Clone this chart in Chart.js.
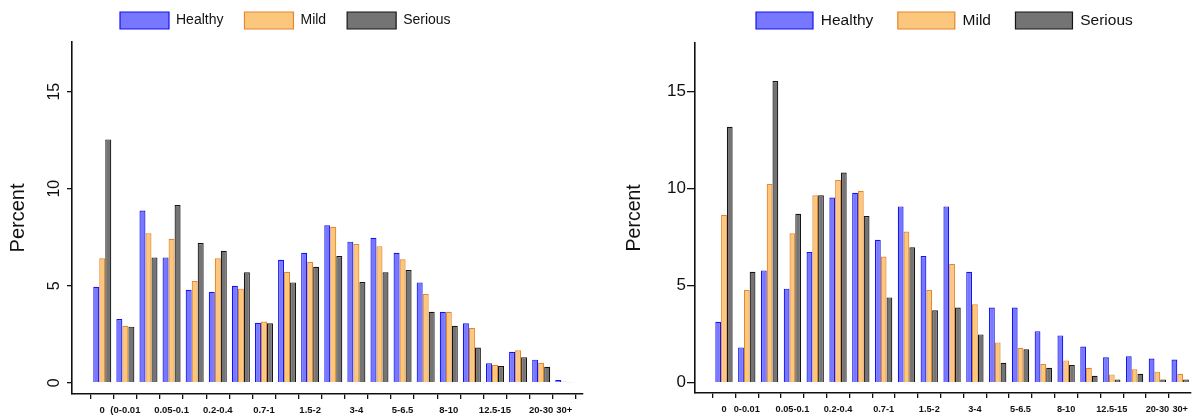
<!DOCTYPE html>
<html><head><meta charset="utf-8">
<script src="https://cdn.jsdelivr.net/npm/chart.js@4.4.1/dist/chart.umd.min.js"></script>
<style>
html,body{margin:0;padding:0;background:#fff;}
#wrap{position:relative;width:1194px;height:415px;overflow:hidden;background:#fff;}
.panel{position:absolute;top:0;width:597px;height:415px;}
</style></head><body>
<div id="wrap">
<div class="panel" style="left:0"><canvas id="c1" width="597" height="415"></canvas></div>
<div class="panel" style="left:597px"><canvas id="c2" width="597" height="415"></canvas></div>
</div>
<script>
// ---- data ----
const categories = ["0","0-0.01","0.01-0.05","0.05-0.1","0.1-0.2","0.2-0.4","0.4-0.7","0.7-1","1-1.5","1.5-2","2-3","3-4","4-5","5-6.5","6.5-8","8-10","10-12.5","12.5-15","15-20","20-30","30+"];
const tickLabelsLeft  = ["0","(0-0.01","","0.05-0.1","","0.2-0.4","","0.7-1","","1.5-2","","3-4","","5-6.5","","8-10","","12.5-15","","20-30","30+"];
const tickLabelsRight = ["0","0-0.01","","0.05-0.1","","0.2-0.4","","0.7-1","","1.5-2","","3-4","","5-6.5","","8-10","","12.5-15","","20-30","30+"];
const yTickValues = [0, 5, 10, 15];
const seriesNames = ["Healthy", "Mild", "Serious"];
const axisTitle = "Percent";

const healthyLeft = [4.95, 3.28, 8.88, 6.46, 4.79, 4.69, 5.00, 3.09, 6.34, 6.70, 8.11, 7.27, 7.47, 6.70, 5.17, 3.66, 3.06, 1.01, 1.60, 1.19, 0.14];
const mildLeft    = [6.41, 2.94, 7.70, 7.42, 5.24, 6.41, 4.85, 3.16, 5.72, 6.22, 8.04, 7.15, 7.04, 6.36, 4.57, 3.66, 2.82, 0.91, 1.67, 1.03, 0.07];
const seriousLeft = [12.54, 2.89, 6.46, 9.16, 7.20, 6.80, 5.69, 3.06, 5.17, 5.98, 6.53, 5.19, 5.69, 5.81, 3.66, 2.94, 1.82, 0.86, 1.32, 0.82, 0.03];

const healthyRight = [3.14, 1.82, 5.79, 4.85, 6.74, 9.55, 9.79, 7.37, 9.09, 6.53, 9.09, 5.72, 3.88, 3.88, 2.66, 2.44, 1.87, 1.31, 1.36, 1.25, 1.20];
const mildRight    = [8.66, 4.78, 10.24, 7.70, 9.66, 10.45, 9.90, 6.51, 7.80, 4.78, 6.12, 4.04, 2.08, 1.80, 0.96, 1.15, 0.77, 0.43, 0.69, 0.57, 0.46];
const seriousRight = [13.20, 5.72, 15.55, 8.71, 9.66, 10.84, 8.59, 4.40, 6.98, 3.73, 3.88, 2.49, 1.03, 1.72, 0.77, 0.91, 0.36, 0.17, 0.46, 0.17, 0.17];

// ---- styles ----
const fills   = ["rgba(112,112,255,0.95)", "rgba(250,196,118,0.95)", "rgba(112,112,112,0.97)"];
const borders = ["#1414ee", "#e6862c", "#151515"];
const FONT = '"Liberation Sans", Arial, sans-serif';

const legendShift = {
  id: 'legendShift',
  afterLayout(chart, args, opts) {
    const lg = chart.legend;
    if (!lg || !lg.lineWidths) return;
    const pad = lg.options.labels.padding;
    const cur = (lg.left + pad + lg.right - lg.lineWidths[0]) / 2;
    const dx = opts.x - cur;
    lg.left += dx; lg.right += dx;
    const dy = opts.y - (lg.top + pad);
    lg.top += dy; lg.bottom += dy;
  }
};

function makePanel(id, series, tickLabels, p) {
  const datasets = series.map((vals, k) => ({
    label: seriesNames[k],
    data: vals.map((v, i) => ({x: i, y: v})),
    backgroundColor: fills[k],
    borderColor: borders[k],
    borderWidth: 1.2,
    categoryPercentage: p.catPct,
    barPercentage: 1.0
  }));
  return new Chart(document.getElementById(id), {
    type: 'bar',
    data: { datasets },
    plugins: [legendShift],
    options: {
      responsive: false,
      animation: false,
      events: [],
      devicePixelRatio: 1,
      layout: { padding: { top: p.padTop, left: 0, right: p.padRight, bottom: 0 } },
      plugins: {
        legendShift: { x: p.legendX, y: 12 },
        tooltip: { enabled: false },
        legend: {
          display: true, position: 'top', align: 'center',
          labels: {
            boxWidth: p.boxW, boxHeight: 17, padding: p.legendPad,
            color: '#111', font: { family: FONT, size: p.legendFont }
          }
        }
      },
      scales: {
        x: {
          type: 'linear', min: p.xMin, max: p.xMax, offset: false,
          afterBuildTicks: s => { s.ticks = categories.map((c, i) => ({ value: i })); },
          afterFit: s => { s.height = p.xAxisH; },
          ticks: {
            autoSkip: false, maxRotation: 0, minRotation: 0, padding: 6,
            color: '#111', font: { family: FONT, size: p.xFont, weight: 'bold' },
            callback: v => tickLabels[Math.round(v)] || ''
          },
          grid: { display: true, drawOnChartArea: false, drawTicks: true, tickLength: 5, color: '#111', lineWidth: 1.3 },
          border: { display: true, color: '#111', width: 1.6 }
        },
        y: {
          type: 'linear', position: 'left', min: p.yMin, max: p.yMax,
          afterBuildTicks: s => { s.ticks = yTickValues.map(v => ({ value: v })); },
          afterFit: s => { s.width = p.yAxisW; },
          ticks: {
            color: '#111', font: { family: FONT, size: p.yFont },
            minRotation: p.yRot, maxRotation: p.yRot,
            crossAlign: p.yRot ? 'center' : 'near', padding: p.yTickPad
          },
          grid: { display: true, drawOnChartArea: false, drawTicks: true, tickLength: p.yTickLen, color: '#111', lineWidth: 1.3 },
          border: { display: true, color: '#111', width: 1.6 },
          title: {
            display: true, text: axisTitle, color: '#111',
            font: { family: FONT, size: p.titleFont },
            padding: { top: p.titlePad, bottom: 0 }
          }
        }
      }
    }
  });
}

makePanel('c1', [healthyLeft, mildLeft, seriousLeft], tickLabelsLeft, {
  catPct: 0.78, padTop: -6, padRight: 14, legendX: 120, boxW: 49, legendPad: 21, legendFont: 14,
  xMin: -1.31, xMax: 20.81, xAxisH: 21, xFont: 9.5,
  yMin: -0.58, yMax: 17.56, yAxisW: 72, yFont: 16, yRot: 90, yTickPad: 4, yTickLen: 5,
  titleFont: 20, titlePad: 6
});
makePanel('c2', [healthyRight, mildRight, seriousRight], tickLabelsRight, {
  catPct: 0.76, padTop: -8.8, padRight: 1, legendX: 159, boxW: 57, legendPad: 24.5, legendFont: 15.5,
  xMin: -1.27, xMax: 20.48, xAxisH: 22, xFont: 9.2,
  yMin: -0.53, yMax: 17.53, yAxisW: 98, yFont: 17, yRot: 0, yTickPad: 1, yTickLen: 8,
  titleFont: 19.5, titlePad: 26.3
});
</script>
</body></html>
